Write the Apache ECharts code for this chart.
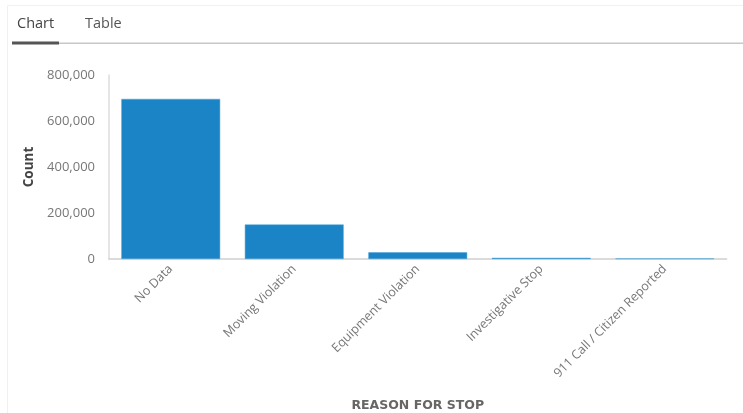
<!DOCTYPE html>
<html><head><meta charset="utf-8">
<script src="https://cdn.jsdelivr.net/npm/echarts@6/dist/echarts.min.js"></script>
<style>html,body{margin:0;padding:0;background:#fff}#c{width:743px;height:413px}</style>
</head><body><div id="c"></div>
<script>
const categories = ["No Data", "Moving Violation", "Equipment Violation", "Investigative Stop", "911 Call / Citizen Reported"];
const counts = [696000, 150000, 29000, 5000, 2500];
const yTicks = [0, 200000, 400000, 600000, 800000];

const chart = echarts.init(document.getElementById('c'), null, {renderer: 'canvas'});
chart.setOption({
  animation: false,
  backgroundColor: '#fff',
  graphic: [
    {type: 'rect', shape: {x: 7.5, y: 5.5, width: 740, height: 412}, style: {fill: 'none', stroke: '#f0f0f0', lineWidth: 1}},
    {type: 'text', left: 17, top: 16, style: {text: 'Chart', font: '14.5px "Open Sans"', fill: '#444'}},
    {type: 'text', left: 85, top: 16, style: {text: 'Table', font: '14.5px "Open Sans"', fill: '#555'}},
    {type: 'rect', shape: {x: 12, y: 42.5, width: 731, height: 1.5}, style: {fill: '#c8c8c8'}},
    {type: 'rect', shape: {x: 12, y: 41.5, width: 47, height: 3}, style: {fill: '#555'}}
  ],
  grid: {left: 109, right: 16.5, top: 75, bottom: 153.5, containLabel: false},
  xAxis: {
    type: 'category',
    data: categories,
    name: 'REASON FOR STOP',
    nameLocation: 'middle',
    nameGap: 140,
    nameTextStyle: {fontFamily: 'DejaVu Sans', fontWeight: 'bold', fontSize: 12.5, color: '#666'},
    axisLine: {show: true, lineStyle: {color: '#cfcfcf', width: 1.5}},
    axisTick: {show: false},
    axisLabel: {rotate: 45, margin: 8, fontFamily: 'Open Sans', fontSize: 12.5, color: '#777', interval: 0}
  },
  yAxis: {
    type: 'value',
    min: 0, max: 800000, interval: 200000,
    name: 'Count',
    nameLocation: 'middle',
    nameRotate: 90,
    nameGap: 67,
    nameTextStyle: {fontFamily: 'Open Sans', fontWeight: 'bold', fontSize: 13.5, color: '#444'},
    axisLine: {show: true, lineStyle: {color: '#dcdcdc', width: 1.5}},
    axisTick: {show: false},
    splitLine: {show: false},
    axisLabel: {
      margin: 14, fontFamily: 'Open Sans', fontSize: 13, color: '#777',
      formatter: v => yTicks.includes(v) ? v.toLocaleString('en-US') : ''
    }
  },
  series: [{
    type: 'bar',
    data: counts,
    barCategoryGap: '20%',
    itemStyle: {color: '#1b84c6', borderColor: '#4aa0d6', borderWidth: 0.5}
  }]
});
</script></body></html>
